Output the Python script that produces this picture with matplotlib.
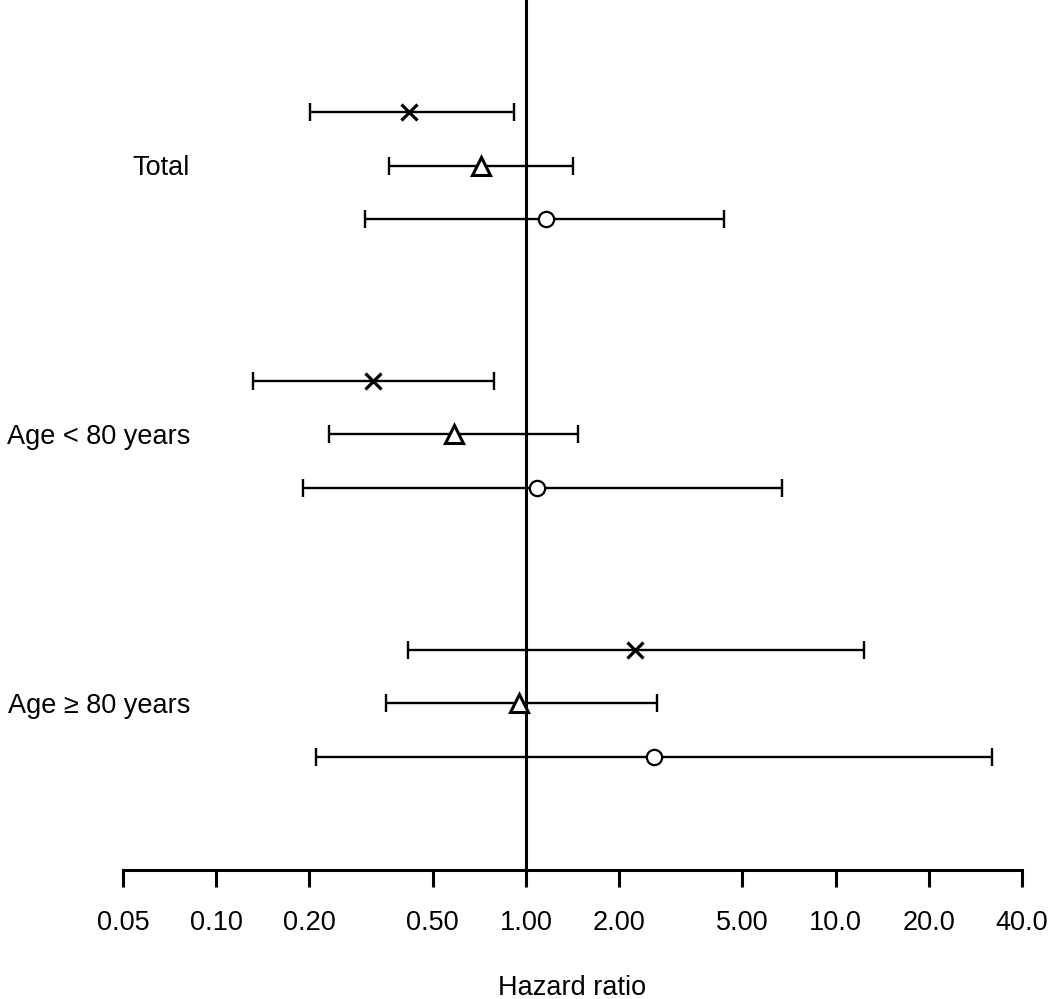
import matplotlib
matplotlib.use("Agg")
import matplotlib.pyplot as plt

plt.rcParams['font.family'] = ['Liberation Sans', 'DejaVu Sans']

# subgroup labels and the three estimates per subgroup
groups = ["Total", "Age < 80 years", "Age \u2265 80 years"]
markers = ["x", "^", "o"]

hr = [[0.42, 0.716, 1.16],
      [0.321, 0.586, 1.086],
      [2.25, 0.95, 2.59]]
lower = [[0.201, 0.361, 0.302],
         [0.131, 0.231, 0.191],
         [0.416, 0.353, 0.21]]
upper = [[0.915, 1.42, 4.36],
         [0.789, 1.47, 6.71],
         [12.4, 2.65, 32.0]]

xticks = [0.05, 0.10, 0.20, 0.50, 1.00, 2.00, 5.00, 10.0, 20.0, 40.0]
xticklabels = ["0.05", "0.10", "0.20", "0.50", "1.00", "2.00", "5.00", "10.0", "20.0", "40.0"]

fig = plt.figure(figsize=(10.5, 9.99), dpi=100)
ax = fig.add_axes([123/1050, 129/999, 899/1050, 870/999])
ax.set_xscale("log")
ax.set_xlim(0.05, 40)
ax.set_ylim(14.1, -2.08)

for g in range(3):
    for j in range(3):
        y = g*5 + j
        ax.errorbar(hr[g][j], y,
                    xerr=[[hr[g][j]-lower[g][j]], [upper[g][j]-hr[g][j]]],
                    fmt="none", ecolor="black", elinewidth=1.7, capsize=6.5, capthick=1.7)
        if markers[j] == "x":
            ax.plot(hr[g][j], y, marker="x", color="black", markersize=12, mew=2.3, zorder=5)
        elif markers[j] == "^":
            ax.plot(hr[g][j], y, marker="^", mfc="white", mec="black", markersize=13, mew=2.2, zorder=5)
        else:
            ax.plot(hr[g][j], y, marker="o", mfc="white", mec="black", markersize=11, mew=1.6, zorder=5)
    ax.text(0.0745, g*5 + 1.05, groups[g], transform=ax.get_yaxis_transform(),
            ha="right", va="center", fontsize=19.5)

ax.axvline(1.0, color="black", lw=2.2, zorder=1)

for s in ["top", "right", "left"]:
    ax.spines[s].set_visible(False)
ax.spines["bottom"].set_linewidth(2.2)
ax.set_yticks([])
ax.set_xticks(xticks)
ax.set_xticklabels(xticklabels, fontsize=19.5)
ax.minorticks_off()
ax.tick_params(axis="x", length=12, width=2.2, pad=17)
ax.set_xlabel("Hazard ratio", fontsize=19.5, labelpad=28)

fig.savefig("out.png", dpi=100)
